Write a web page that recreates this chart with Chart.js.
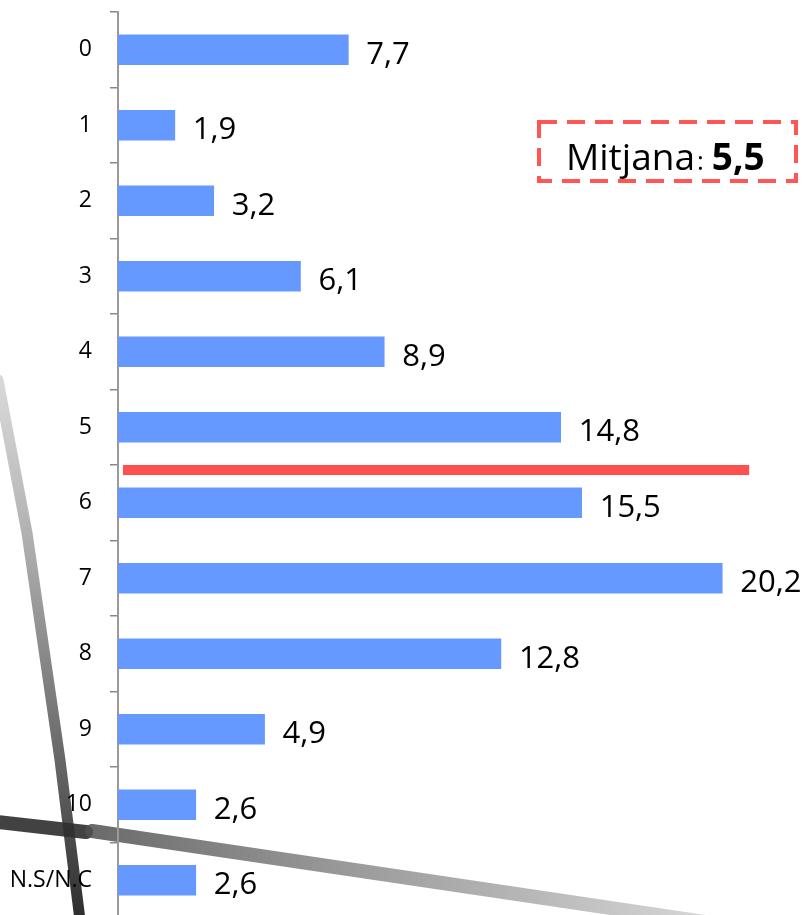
<!DOCTYPE html>
<html>
<head>
<meta charset="utf-8">
<script src="https://cdn.jsdelivr.net/npm/chart.js@4"></script>
<style>
    html, body { margin: 0; padding: 0; background: #fff; overflow: hidden; }
    #wrap { width: 806px; height: 920px; position: relative; }
</style>
</head>
<body>
<div id="wrap"><canvas id="mean-chart"></canvas></div>
<script>
const categories = ['0', '1', '2', '3', '4', '5', '6', '7', '8', '9', '10', 'N.S/N.C'];
const percentages = [7.7, 1.9, 3.2, 6.1, 8.9, 14.8, 15.5, 20.2, 12.8, 4.9, 2.6, 2.6];
const meanValue = 5.5;
const meanLabel = 'Mitjana';

function formatValue(v) {
    return v.toFixed(1).replace('.', ',');
}

// grey photo strokes behind the chart
const backdropPlugin = {
    id: 'backdrop',
    beforeDraw(chart) {
        const ctx = chart.ctx;
        ctx.save();
        ctx.fillStyle = '#fff';
        ctx.fillRect(0, 0, chart.width, chart.height);
        ctx.lineCap = 'round';

        let g = ctx.createLinearGradient(0, 380, 0, 915);
        g.addColorStop(0, 'rgba(170,170,170,0.45)');
        g.addColorStop(0.5, 'rgba(110,110,110,0.8)');
        g.addColorStop(1, 'rgba(35,35,35,0.95)');
        ctx.strokeStyle = g;
        ctx.lineWidth = 11;
        ctx.beginPath();
        ctx.moveTo(-2, 380);
        ctx.lineTo(27, 533);
        ctx.lineTo(60, 760);
        ctx.lineTo(80, 920);
        ctx.stroke();

        ctx.strokeStyle = 'rgba(45,45,45,0.9)';
        ctx.lineWidth = 14;
        ctx.beginPath();
        ctx.moveTo(-2, 822);
        ctx.lineTo(86, 832);
        ctx.stroke();

        g = ctx.createLinearGradient(90, 0, 806, 0);
        g.addColorStop(0, 'rgba(80,80,80,0.85)');
        g.addColorStop(0.6, 'rgba(150,150,150,0.7)');
        g.addColorStop(1, 'rgba(200,200,200,0.5)');
        ctx.strokeStyle = g;
        ctx.lineWidth = 14;
        ctx.beginPath();
        ctx.moveTo(92, 831);
        ctx.lineTo(806, 937);
        ctx.stroke();
        ctx.restore();
    },
};

const annotationsPlugin = {
    id: 'annotations',
    afterDatasetsDraw(chart) {
        const ctx = chart.ctx;
        const x = chart.scales.x;
        const y = chart.scales.y;
        ctx.save();

        // value labels
        ctx.fillStyle = '#000';
        ctx.font = '31px "Open Sans"';
        ctx.textAlign = 'left';
        ctx.textBaseline = 'alphabetic';
        chart.getDatasetMeta(0).data.forEach((bar, i) => {
            ctx.fillText(formatValue(percentages[i]), bar.x + 18, bar.y + 14);
        });

        // mean line
        const yMean = y.getPixelForValue(meanValue) + 5;
        ctx.fillStyle = '#ff5050';
        ctx.fillRect(chart.chartArea.left + 5, yMean - 5, x.getPixelForValue(21.1) - chart.chartArea.left - 5, 10);

        // dashed box
        ctx.strokeStyle = '#ff5555';
        ctx.lineWidth = 4;
        ctx.setLineDash([18, 10]);
        ctx.strokeRect(539, 122, 257, 59);
        ctx.setLineDash([]);

        ctx.fillStyle = '#000';
        ctx.font = '37px "Open Sans"';
        ctx.fillText(meanLabel, 566, 170);
        let tx = 566 + ctx.measureText(meanLabel).width + 2;
        ctx.font = '26px "Open Sans"';
        ctx.fillText(':', tx, 170);
        tx += ctx.measureText(':').width + 8;
        ctx.font = 'bold 37px "Open Sans"';
        ctx.fillText(formatValue(meanValue), tx, 170);

        ctx.restore();
    },
};

function createMeanChart(canvas) {
    return new Chart(canvas, {
        type: 'bar',
        data: {
            labels: categories,
            datasets: [
                {
                    data: percentages,
                    backgroundColor: '#6699ff',
                    borderWidth: 0,
                    barThickness: 30,
                },
            ],
        },
        options: {
            indexAxis: 'y',
            responsive: true,
            maintainAspectRatio: false,
            animation: false,
            layout: {
                padding: { top: 12, bottom: 2, left: 0, right: 0 },
            },
            plugins: {
                legend: { display: false },
                tooltip: { enabled: false },
            },
            scales: {
                x: {
                    display: false,
                    min: 0,
                    max: 23,
                },
                y: {
                    afterFit(scale) {
                        scale.width = 118;
                        scale.paddingTop = 0;
                        scale.paddingBottom = 0;
                    },
                    border: {
                        display: true,
                        color: '#999',
                        width: 2,
                    },
                    grid: {
                        offset: true,
                        drawOnChartArea: false,
                        drawTicks: true,
                        tickLength: 8,
                        color: '#888',
                        lineWidth: 1.5,
                    },
                    ticks: {
                        autoSkip: false,
                        padding: 18,
                        color: '#000',
                        font: {
                            family: '"Open Sans"',
                            size: 23,
                        },
                    },
                },
            },
        },
        plugins: [backdropPlugin, annotationsPlugin],
    });
}

document.addEventListener('DOMContentLoaded', () => {
    createMeanChart(document.getElementById('mean-chart'));
});
</script>
</body>
</html>
